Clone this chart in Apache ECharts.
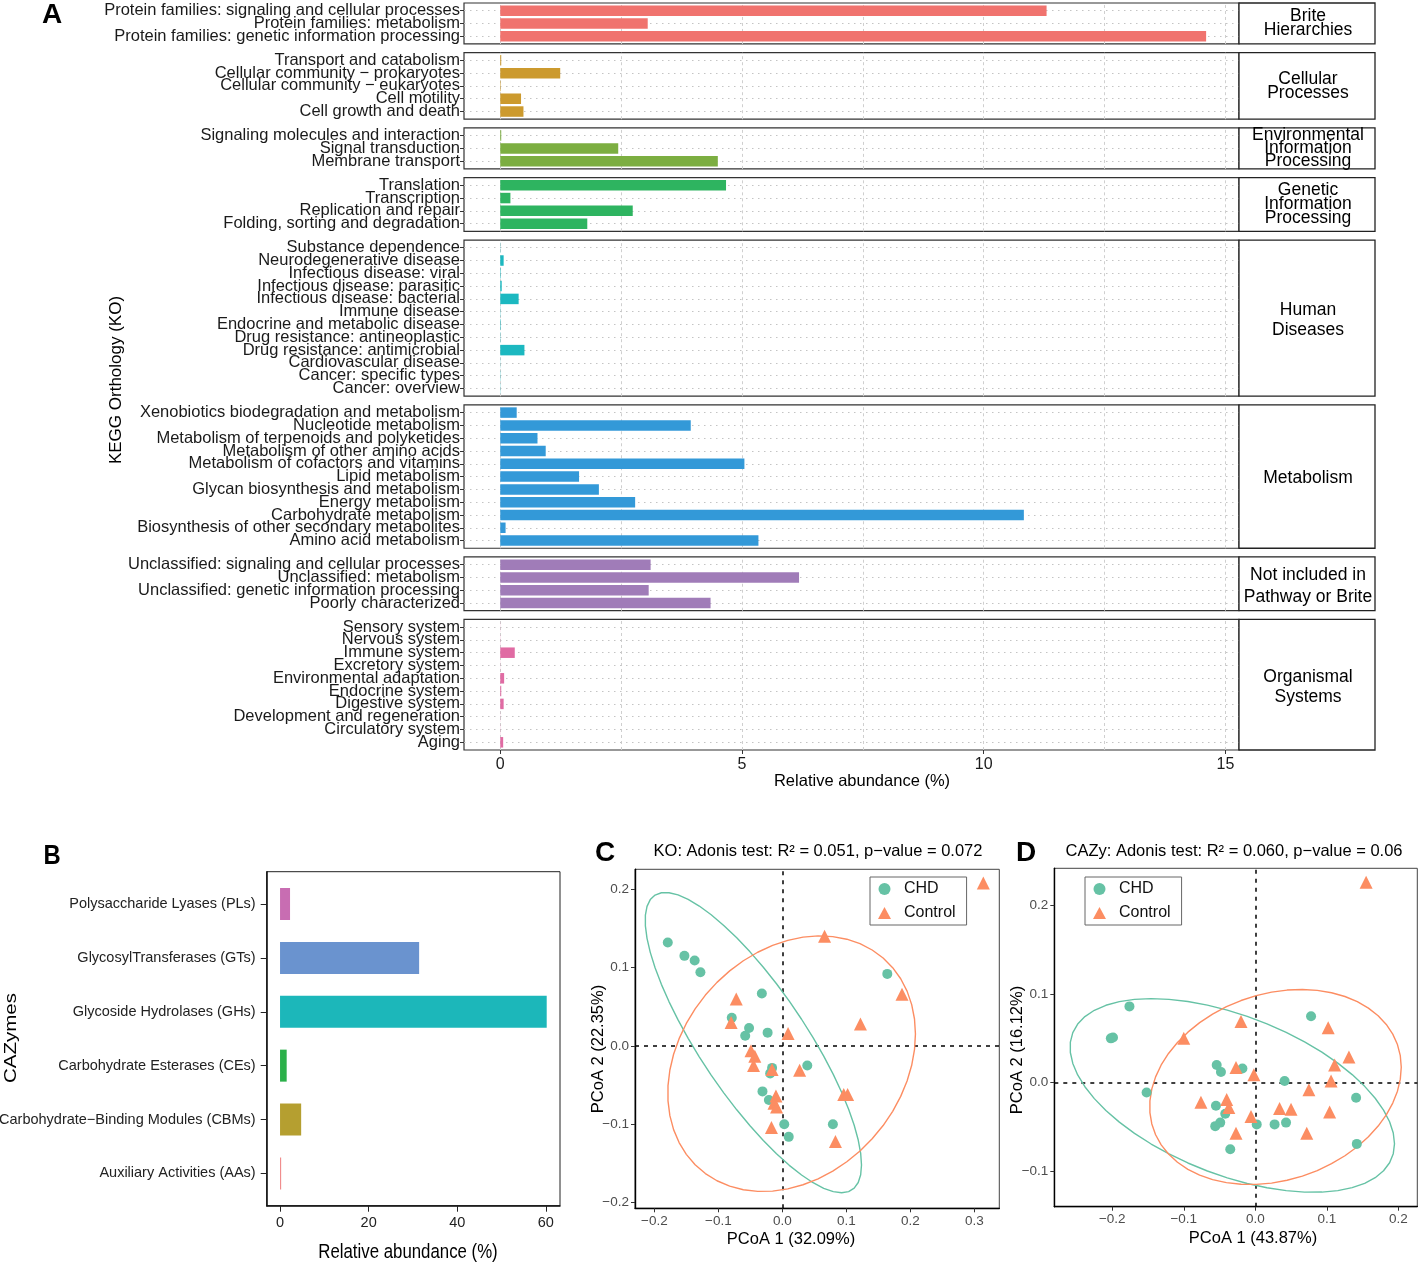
<!DOCTYPE html>
<html><head><meta charset="utf-8">
<script src="https://cdn.jsdelivr.net/npm/echarts@6/dist/echarts.min.js"></script>
<style>html,body{margin:0;padding:0;background:#fff}#c{width:1418px;height:1263px}</style>
</head><body><div id="c"></div>
<script>
// ---------------- DATA ----------------
const briteNames = ['Protein families: signaling and cellular processes','Protein families: metabolism','Protein families: genetic information processing'];
const briteValues = [11.30, 3.05, 14.60];
const cellularNames = ['Transport and catabolism','Cellular community \u2212 prokaryotes','Cellular community \u2212 eukaryotes','Cell motility','Cell growth and death'];
const cellularValues = [0.02, 1.24, 0.01, 0.43, 0.48];
const envNames = ['Signaling molecules and interaction','Signal transduction','Membrane transport'];
const envValues = [0.02, 2.44, 4.50];
const geneticNames = ['Translation','Transcription','Replication and repair','Folding, sorting and degradation'];
const geneticValues = [4.67, 0.21, 2.74, 1.80];
const humanNames = ['Substance dependence','Neurodegenerative disease','Infectious disease: viral','Infectious disease: parasitic','Infectious disease: bacterial','Immune disease','Endocrine and metabolic disease','Drug resistance: antineoplastic','Drug resistance: antimicrobial','Cardiovascular disease','Cancer: specific types','Cancer: overview'];
const humanValues = [0.004, 0.07, 0.01, 0.03, 0.38, 0.005, 0.01, 0.005, 0.50, 0.003, 0.005, 0.004];
const metabolismNames = ['Xenobiotics biodegradation and metabolism','Nucleotide metabolism','Metabolism of terpenoids and polyketides','Metabolism of other amino acids','Metabolism of cofactors and vitamins','Lipid metabolism','Glycan biosynthesis and metabolism','Energy metabolism','Carbohydrate metabolism','Biosynthesis of other secondary metabolites','Amino acid metabolism'];
const metabolismValues = [0.34, 3.94, 0.77, 0.94, 5.05, 1.63, 2.04, 2.79, 10.83, 0.11, 5.34];
const unclassifiedNames = ['Unclassified: signaling and cellular processes','Unclassified: metabolism','Unclassified: genetic information processing','Poorly characterized'];
const unclassifiedValues = [3.11, 6.18, 3.07, 4.35];
const organismalNames = ['Sensory system','Nervous system','Immune system','Excretory system','Environmental adaptation','Endocrine system','Digestive system','Development and regeneration','Circulatory system','Aging'];
const organismalValues = [0.002, 0.003, 0.30, 0.002, 0.08, 0.02, 0.07, 0.002, 0.003, 0.06];
const keggStrips = ['Brite\nHierarchies','Cellular\nProcesses','Environmental\nInformation\nProcessing','Genetic\nInformation\nProcessing','Human\nDiseases','Metabolism','Not included in\nPathway or Brite','Organismal\nSystems'];
const keggColors = ['#F0736E','#CC9A2E','#7CAE41','#2EB460','#1CB8C0','#3399D8','#A07CB8','#E06BA3'];
const keggTicks = [0, 5, 10, 15];
const keggGridBreaks = [0, 2.5, 5, 7.5, 10, 12.5, 15];

const cazyNames = ['Polysaccharide Lyases (PLs)','GlycosylTransferases (GTs)','Glycoside Hydrolases (GHs)','Carbohydrate Esterases (CEs)','Carbohydrate\u2212Binding Modules (CBMs)','Auxiliary Activities (AAs)'];
const cazyValues = [2.26, 31.4, 60.2, 1.5, 4.77, 0.25];
const cazyColors = ['#C86DB2','#6A93CF','#1CB7BA','#2BB04A','#B59F30','#F08A8A'];
const cazyTicks = [0, 20, 40, 60];

const koCHD = [[-0.179,0.132],[-0.153,0.115],[-0.137,0.109],[-0.128,0.094],[-0.032,0.067],[-0.079,0.036],[-0.052,0.023],[-0.058,0.013],[-0.023,0.017],[-0.016,-0.028],[-0.019,-0.035],[0.039,-0.025],[-0.031,-0.058],[-0.021,-0.069],[0.003,-0.100],[0.010,-0.116],[0.079,-0.100],[0.164,0.092]];
const koControl = [[0.314,0.208],[0.066,0.140],[0.187,0.066],[0.122,0.028],[-0.072,0.060],[-0.080,0.030],[0.009,0.016],[-0.049,-0.006],[-0.043,-0.013],[-0.045,-0.025],[-0.016,-0.030],[0.027,-0.031],[-0.010,-0.064],[-0.013,-0.073],[-0.009,-0.078],[0.096,-0.062],[0.102,-0.062],[-0.017,-0.104],[0.083,-0.122]];
const koTicksX = [-0.2, -0.1, 0, 0.1, 0.2, 0.3];
const koTicksY = [-0.2, -0.1, 0, 0.1, 0.2];

const cazyCHD = [[-0.176,0.086],[-0.202,0.050],[-0.199,0.051],[-0.152,-0.011],[-0.054,0.020],[-0.048,0.012],[-0.018,0.016],[-0.055,-0.026],[-0.042,-0.035],[-0.049,-0.045],[-0.056,-0.049],[-0.035,-0.075],[0.002,-0.047],[0.027,-0.047],[0.043,-0.045],[0.041,0.002],[0.078,0.075],[0.141,-0.017],[0.142,-0.069]];
const cazyControl = [[0.155,0.226],[-0.100,0.050],[-0.020,0.069],[0.102,0.062],[0.131,0.029],[0.111,0.020],[-0.027,0.017],[-0.002,0.009],[0.106,0.002],[0.075,-0.008],[-0.076,-0.022],[-0.040,-0.019],[-0.037,-0.028],[-0.006,-0.038],[0.034,-0.029],[0.050,-0.030],[0.104,-0.033],[-0.027,-0.057],[0.072,-0.057]];
const cazyTicksX = [-0.2, -0.1, 0, 0.1, 0.2];
const cazyTicksY = [-0.1, 0, 0.1, 0.2];

const groupNames = ['CHD', 'Control'];
const groupSymbols = ['circle', 'triangle'];
const groupColors = ['#66C2A5', '#FC8D62'];

// ---------------- HELPERS ----------------
const FONT = "'Liberation Sans', Arial, Helvetica, sans-serif";
function hasFont(name) {
  const c = document.createElement('canvas').getContext('2d');
  const s = 'abcdefghijklmnopqrstuvwxyz ABCDEFGHIJKLM 0123456789';
  c.font = '40px monospace'; const w1 = c.measureText(s).width;
  c.font = "40px '" + name + "', monospace"; const w2 = c.measureText(s).width;
  return Math.abs(w1 - w2) > 0.5;
}
const NARROW = hasFont('Liberation Sans Narrow');
const B_FONT = NARROW ? "'Liberation Sans Narrow', " + FONT : FONT;
const B_SIZE = NARROW ? 17.5 : 14.5;

// robust t-ellipse as in ggplot2::stat_ellipse (MASS::cov.trob, level 0.95)
function trobEllipse(pts, level, segments) {
  const n = pts.length, p = 2, nu = 5;
  let loc = [pts.reduce((s, q) => s + q[0], 0) / n, pts.reduce((s, q) => s + q[1], 0) / n];
  let w = pts.map(() => 1), X = null;
  for (let it = 0; it < 25; it++) {
    const w0 = w.slice();
    X = pts.map(q => [q[0] - loc[0], q[1] - loc[1]]);
    const sw = w.reduce((a, b) => a + b, 0);
    let a = 0, b = 0, c = 0;
    X.forEach((d, i) => { a += w[i] * d[0] * d[0]; b += w[i] * d[0] * d[1]; c += w[i] * d[1] * d[1]; });
    a /= sw; b /= sw; c /= sw;
    const det = a * c - b * b;
    const Q = X.map(d => (c * d[0] * d[0] - 2 * b * d[0] * d[1] + a * d[1] * d[1]) / det);
    w = Q.map(q => (nu + p) / (nu + q));
    const sw2 = w.reduce((s, v) => s + v, 0);
    loc = [pts.reduce((s, q, i) => s + w[i] * q[0], 0) / sw2, pts.reduce((s, q, i) => s + w[i] * q[1], 0) / sw2];
    if (w.every((v, i) => Math.abs(v - w0[i]) < 0.01)) break;
  }
  let a = 0, b = 0, c = 0;
  X.forEach((d, i) => { a += w[i] * d[0] * d[0]; b += w[i] * d[0] * d[1]; c += w[i] * d[1] * d[1]; });
  a /= n; b /= n; c /= n;
  const dfd = n - 1;
  const fq = (dfd / 2) * (Math.pow(1 - level, -2 / dfd) - 1);
  const r = Math.sqrt(2 * fq);
  const R11 = Math.sqrt(a), R12 = b / R11, R22 = Math.sqrt(c - R12 * R12);
  const out = [];
  for (let k = 0; k <= segments; k++) {
    const t = 2 * Math.PI * k / segments, ct = Math.cos(t), st = Math.sin(t);
    out.push([loc[0] + r * ct * R11, loc[1] + r * (ct * R12 + st * R22)]);
  }
  return out;
}
const minusFmt = v => (Math.abs(v) < 1e-9 ? '0.0' : v.toFixed(1).replace('-', '\u2212'));

const grids = [], xAxes = [], yAxes = [], series = [], graphics = [];
function addGrid(rect, extra) {
  grids.push(Object.assign({ left: rect[0], top: rect[1], width: rect[2], height: rect[3], containLabel: false, outerBoundsMode: 'none' }, extra || {}));
  return grids.length - 1;
}
function text(x, y, str, size, o) {
  o = o || {};
  graphics.push({
    type: 'text', x: x, y: y, rotation: o.rotation || 0, scaleX: o.scaleX || 1, scaleY: o.scaleY || 1, silent: true, z: 50,
    style: { text: str, fill: o.fill || '#000', fontSize: size, fontFamily: o.family || FONT, fontWeight: o.weight || 'normal',
      align: 'center', verticalAlign: 'middle', lineHeight: o.lineHeight || Math.round(size * 1.2) }
  });
}

// ---------------- PANEL A ----------------
const keggGroups = [
  { names: briteNames, values: briteValues }, { names: cellularNames, values: cellularValues },
  { names: envNames, values: envValues }, { names: geneticNames, values: geneticValues },
  { names: humanNames, values: humanValues }, { names: metabolismNames, values: metabolismValues },
  { names: unclassifiedNames, values: unclassifiedValues }, { names: organismalNames, values: organismalValues }
];
const A = { left: 464, width: 775, top: 3, unit: 12.8, gap: 8.7, stripX: 1239, stripW: 136, min: -0.75, max: 15.28 };
const stripLH = [14, 14, 13, 14, 20, 20, 22, 20];
let cursor = A.top;
keggGroups.forEach((g, i) => {
  const n = g.names.length;
  const fh = (n + 0.2) * A.unit;
  const last = i === keggGroups.length - 1;
  const fi = addGrid([A.left, cursor, A.width, fh], { show: true, borderColor: '#333', borderWidth: 1.2, backgroundColor: 'transparent' });
  xAxes.push({ type: 'value', gridIndex: fi, min: A.min, max: A.max, show: last, position: 'bottom',
    axisLine: { show: false, onZero: false }, splitLine: { show: false },
    axisTick: { show: true, customValues: keggTicks, length: 4, lineStyle: { color: '#333' } },
    axisLabel: { show: true, customValues: keggTicks, fontSize: 16, color: '#1a1a1a', margin: 7, hideOverlap: false, fontFamily: FONT } });
  yAxes.push({ type: 'value', gridIndex: fi, min: 0, max: 1, show: false });
  series.push({ type: 'line', xAxisIndex: fi, yAxisIndex: fi, data: [], silent: true,
    markLine: { silent: true, symbol: 'none', z: 1, animation: false, label: { show: false }, emphasis: { disabled: true },
      lineStyle: { color: '#cfcfcf', type: [3, 3], width: 1 }, data: keggGridBreaks.map(v => ({ xAxis: v })) } });
  const ii = addGrid([A.left, cursor + 0.1 * A.unit, A.width, n * A.unit]);
  xAxes.push({ type: 'value', gridIndex: ii, min: A.min, max: A.max, show: false });
  yAxes.push({ type: 'category', gridIndex: ii, data: g.names, inverse: true,
    axisLine: { show: false, onZero: false }, splitLine: { show: false },
    axisTick: { show: true, alignWithLabel: true, length: 4, lineStyle: { color: '#333' } },
    axisLabel: { interval: 0, hideOverlap: false, fontSize: 16.5, color: '#1a1a1a', margin: 4, fontFamily: FONT } });
  series.push({ type: 'line', xAxisIndex: ii, yAxisIndex: ii, data: [], silent: true,
    markLine: { silent: true, symbol: 'none', z: 1, animation: false, label: { show: false }, emphasis: { disabled: true },
      lineStyle: { color: '#c4c4c4', type: [1.5, 4.5], width: 1 }, data: g.names.map(nm => ({ yAxis: nm })) } });
  series.push({ type: 'bar', xAxisIndex: ii, yAxisIndex: ii, data: g.values, barWidth: 10.5, silent: true, z: 3,
    itemStyle: { color: keggColors[i] } });
  graphics.push({ type: 'rect', silent: true, z: 40, shape: { x: A.stripX, y: cursor, width: A.stripW, height: fh },
    style: { fill: '#fff', stroke: '#222', lineWidth: 1.3 } });
  const lh = stripLH[i];
  text(A.stripX + A.stripW / 2 + 1, cursor + fh / 2 + (lh >= 20 ? 2 : 0), keggStrips[i], 17.5, { lineHeight: lh });
  cursor += fh + A.gap;
});
text(52, 15, 'A', 28, { weight: 'bold' });
text(116, 380, 'KEGG Orthology (KO)', 17, { rotation: Math.PI / 2 });
text(862, 781, 'Relative abundance (%)', 16.5);

// ---------------- PANEL B ----------------
const B = { left: 266.7, top: 871.7, width: 293.3, height: 334, min: -3.01, max: 63.2 };
const bUnit = B.height / (cazyNames.length + 0.2);
const bf = addGrid([B.left, B.top, B.width, B.height], { show: true, borderColor: '#222', borderWidth: 1, backgroundColor: 'transparent' });
xAxes.push({ type: 'value', gridIndex: bf, min: B.min, max: B.max, position: 'bottom',
  axisLine: { show: true, onZero: false, lineStyle: { color: '#111', width: 1.5 } }, splitLine: { show: false },
  axisTick: { show: true, customValues: cazyTicks, length: 6, lineStyle: { color: '#222' } },
  axisLabel: { customValues: cazyTicks, fontSize: B_SIZE, fontFamily: B_FONT, color: '#222', margin: 10, hideOverlap: false } });
yAxes.push({ type: 'value', gridIndex: bf, min: 0, max: 1, position: 'left',
  axisLine: { show: true, onZero: false, lineStyle: { color: '#111', width: 1.5 } },
  axisTick: { show: false }, axisLabel: { show: false }, splitLine: { show: false } });
const bi = addGrid([B.left, B.top + 0.1 * bUnit, B.width, cazyNames.length * bUnit]);
xAxes.push({ type: 'value', gridIndex: bi, min: B.min, max: B.max, show: false });
yAxes.push({ type: 'category', gridIndex: bi, data: cazyNames, inverse: true,
  axisLine: { show: false, onZero: false }, splitLine: { show: false },
  axisTick: { show: true, alignWithLabel: true, length: 6, lineStyle: { color: '#222' } },
  axisLabel: { interval: 0, hideOverlap: false, fontSize: B_SIZE, fontFamily: B_FONT, color: '#222', margin: 11 } });
series.push({ type: 'bar', xAxisIndex: bi, yAxisIndex: bi, barWidth: 32, silent: true, z: 3,
  data: cazyValues.map((v, i) => ({ value: v, itemStyle: { color: cazyColors[i] } })) });
text(52, 856, 'B', 28, { weight: 'bold', scaleX: 0.85 });
text(11, 1038, 'CAZymes', 20.5, { rotation: Math.PI / 2, scaleY: 0.82 });
text(408, 1252, 'Relative abundance (%)', 20.5, { scaleX: 0.82 });

// ---------------- PANELS C & D ----------------
function pcoaPanel(rect, xr, yr, tx, ty, chd, ctrl) {
  const gi = addGrid(rect, { show: true, borderColor: '#444', borderWidth: 1, backgroundColor: 'transparent' });
  const ax = (ticks, min, max, pos) => ({ type: 'value', gridIndex: gi, min: min, max: max, position: pos,
    axisLine: { show: true, onZero: false, lineStyle: { color: '#000', width: 1.4 } }, splitLine: { show: false },
    axisTick: { show: true, customValues: ticks, length: 4, lineStyle: { color: '#333' } },
    axisLabel: { customValues: ticks, formatter: minusFmt, fontSize: 13.5, color: '#4D4D4D', margin: 6, hideOverlap: false, fontFamily: FONT } });
  xAxes.push(ax(tx, xr[0], xr[1], 'bottom'));
  yAxes.push(ax(ty, yr[0], yr[1], 'left'));
  series.push({ type: 'line', xAxisIndex: gi, yAxisIndex: gi, data: [], silent: true,
    markLine: { silent: true, symbol: 'none', z: 1, animation: false, label: { show: false }, emphasis: { disabled: true },
      lineStyle: { color: '#000', type: [4, 5], width: 1.5 }, data: [{ xAxis: 0 }, { yAxis: 0 }] } });
  [chd, ctrl].forEach((pts, k) => {
    series.push({ type: 'line', name: groupNames[k] + ' ellipse', xAxisIndex: gi, yAxisIndex: gi, data: trobEllipse(pts, 0.95, 51),
      showSymbol: false, symbol: 'none', silent: true, z: 2, lineStyle: { color: groupColors[k], width: 1.4 } });
  });
  [chd, ctrl].forEach((pts, k) => {
    series.push({ type: 'scatter', name: groupNames[k], xAxisIndex: gi, yAxisIndex: gi, data: pts, silent: true, z: 4,
      symbol: groupSymbols[k], symbolSize: k === 0 ? 10 : 13, symbolKeepAspect: true,
      itemStyle: { color: groupColors[k], opacity: 1 } });
  });
}
pcoaPanel([635, 869.3, 364.3, 339], [-0.2302, 0.339], [-0.2072, 0.2255], koTicksX, koTicksY, koCHD, koControl);
pcoaPanel([1054.3, 868.3, 363, 338.4], [-0.2811, 0.2266], [-0.1398, 0.2417], cazyTicksX, cazyTicksY, cazyCHD, cazyControl);

text(605, 853, 'C', 28, { weight: 'bold' });
text(818, 851, 'KO: Adonis test: R\u00B2 = 0.051, p\u2212value = 0.072', 16.5);
text(791, 1239, 'PCoA 1 (32.09%)', 16.5);
text(598, 1049, 'PCoA 2 (22.35%)', 16.5, { rotation: Math.PI / 2 });
text(1026, 853, 'D', 28, { weight: 'bold' });
text(1234, 851, 'CAZy: Adonis test: R\u00B2 = 0.060, p\u2212value = 0.06', 16.5);
text(1253, 1238, 'PCoA 1 (43.87%)', 16.5);
text(1017, 1050, 'PCoA 2 (16.12%)', 16.5, { rotation: Math.PI / 2 });

const legendBase = { orient: 'vertical', top: 877, padding: [4, 11, 4, 8], itemWidth: 13, itemHeight: 12, itemGap: 8,
  symbolKeepAspect: true, borderColor: '#666', borderWidth: 1, backgroundColor: '#fff', selectedMode: false,
  textStyle: { fontSize: 16, color: '#111', fontFamily: FONT, padding: [0, 0, 0, 8] },
  data: groupNames.map((nm, k) => ({ name: nm, icon: groupSymbols[k] })) };

const chart = echarts.init(document.getElementById('c'), null, { renderer: 'canvas', width: 1418, height: 1263 });
chart.setOption({
  animation: false,
  backgroundColor: '#fff',
  textStyle: { fontFamily: FONT },
  grid: grids, xAxis: xAxes, yAxis: yAxes, series: series,
  legend: [Object.assign({ left: 870 }, legendBase), Object.assign({ left: 1085 }, legendBase)],
  graphic: { elements: graphics }
});
</script></body></html>
